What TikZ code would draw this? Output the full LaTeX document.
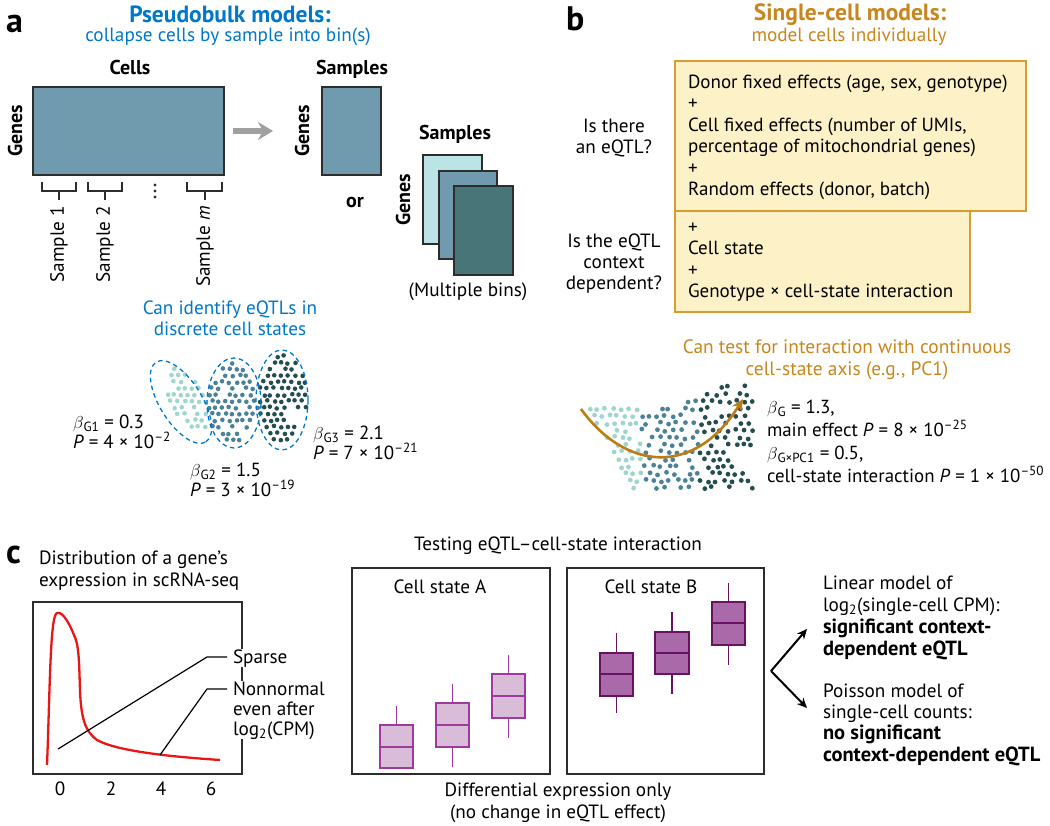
\documentclass[tikz,border=0pt]{standalone}
\usepackage{fontspec}
\setmainfont{PT Sans}
\usetikzlibrary{arrows.meta}
\definecolor{pbblue}{RGB}{0,119,200}
\definecolor{scor}{RGB}{200,134,28}
\definecolor{steel}{RGB}{112,155,174}
\definecolor{lteal}{RGB}{187,228,230}
\definecolor{dteal}{RGB}{72,117,119}
\definecolor{mline}{RGB}{45,45,45}
\definecolor{dotL}{RGB}{158,214,205}
\definecolor{dotM}{RGB}{76,130,152}
\definecolor{dotD}{RGB}{35,77,78}
\definecolor{yfill}{RGB}{253,241,199}
\definecolor{yline}{RGB}{214,158,48}
\definecolor{curvered}{RGB}{232,22,22}
\definecolor{pAf}{RGB}{216,188,216}
\definecolor{pAl}{RGB}{158,58,158}
\definecolor{pBf}{RGB}{170,106,170}
\definecolor{pBl}{RGB}{105,18,100}
\definecolor{garrow}{RGB}{160,160,160}
\definecolor{trend}{RGB}{190,125,20}
\newcommand\fsz[2]{\fontsize{#1}{#2}\selectfont}
\newcommand\bigbf[1]{{\fontsize{20.5}{21.5}\selectfont\bfseries #1}}
\newcommand\bplot[8]{%
  \pgfmathsetmacro\bxc{(#2+#3)/2}%
  \draw[wh#1] (\bxc,#4) -- (\bxc,#7) (\bxc,#5) -- (\bxc,#8);
  \filldraw[box#1] (#2,#4) rectangle (#3,#5);
  \draw[med#1] (#2,#6) -- (#3,#6);
}
\begin{document}
\begin{tikzpicture}[x=1pt,y=-1pt,
  every node/.style={inner sep=0pt, outer sep=0pt},
  txt/.style={font=\fsz{19.2}{21.5}},
  bxt/.style={font=\fsz{19}{21.5}},
  bld/.style={font=\fsz{20}{21.5}\bfseries},
  lab/.style={font=\fsz{34}{34}\bfseries},
  mat/.style={draw=mline, line width=1.4pt},
  brk/.style={draw=mline, line width=1.4pt},
  dsh/.style={draw=pbblue, line width=1.3pt, dash pattern=on 4.5pt off 3.5pt},
  ybox/.style={draw=yline, fill=yfill, line width=1.5pt},
  frame/.style={draw=mline, line width=1.4pt},
  lead/.style={draw=black, line width=1.2pt},
  boxA/.style={draw=pAl, fill=pAf, line width=1.6pt},
  whA/.style={draw=pAl, line width=1.6pt},
  medA/.style={draw=pAl, line width=2.2pt},
  boxB/.style={draw=pBl, fill=pBf, line width=1.6pt},
  whB/.style={draw=pBl, line width=1.6pt},
  medB/.style={draw=pBl, line width=2.2pt},
  fork/.style={draw=black, line width=2pt, -{Stealth[length=10pt,width=9pt]}}
]
\useasboundingbox (0,0) rectangle (1050,826);
\pgfmathsetseed{11}

% ================= panel a =================
\node[lab, anchor=base west] (la) at (6,33) {a};
\node[font=\fsz{23.5}{26}\bfseries, text=pbblue, anchor=base] (pbt) at (230,23) {Pseudobulk models:};
\node[font=\fsz{19.2}{22}, text=pbblue, anchor=base] (pbs) at (228,42) {collapse cells by sample into bin(s)};

\node[mat, fill=steel, minimum width=191pt, minimum height=88pt] (cm) at (128.5,131) {};
\node[bld, anchor=base] (cellsl) at (130,75) {Cells};
\node[bld, rotate=90] (genes1) at (15,131) {Genes};
\node[mat, fill=steel, minimum width=59pt, minimum height=88pt] (sm) at (351.5,131) {};
\node[bld, anchor=base] (samp1) at (352,75) {Samples};
\node[bld, rotate=90] (genes2) at (302,131) {Genes};
\draw[draw=garrow, line width=6pt, shorten <=9pt, shorten >=49pt, -{Stealth[length=15pt,width=18pt]}] (cm) -- (sm);

\node[bld] (orl) at (355,203) {or};
\node[bld, anchor=base] (samp2) at (455,140) {Samples};
\node[mat, fill=lteal, minimum width=59pt, minimum height=89pt] (r1) at (452.5,199.5) {};
\node[mat, fill=steel, minimum width=58pt, minimum height=88pt] (r2) at (468,215) {};
\node[mat, fill=dteal, minimum width=59pt, minimum height=89pt] (r3) at (483.5,230.5) {};
\node[bld, rotate=90] (genes3) at (403,200) {Genes};
\node[txt, anchor=base] (mb) at (468,297) {(Multiple bins)};

% brackets
\draw[brk] (42,182) -- (42,191) -- (76,191) -- (76,182) (59,191) -- (59,200);
\draw[brk] (88,182) -- (88,191) -- (122,191) -- (122,182) (105,191) -- (105,200);
\draw[brk] (187,182) -- (187,191) -- (222,191) -- (222,182) (205,191) -- (205,200);
\fill[mline] (155,185) circle (1.7pt) (155,191) circle (1.7pt) (155,197) circle (1.7pt);
\node[txt, rotate=90, anchor=east] (s1) at (59,206) {Sample 1};
\node[txt, rotate=90, anchor=east] (s2) at (105,206) {Sample 2};
\node[txt, rotate=90, anchor=east] (sm2) at (205,206) {Sample \textit{m}};

\node[txt, text=pbblue, align=center, anchor=base] (cid) at (230,336) {Can identify eQTLs in\\discrete cell states};

% discrete clusters
\foreach \j in {0,...,15}{
 \foreach \i in {0,...,23}{
  \pgfmathsetmacro\px{150+\i*6.9+mod(\j,2)*3.45+1.0*rand}
  \pgfmathsetmacro\py{350+\j*6.4+1.0*rand}
  \pgfmathsetmacro\uu{(\px-188)*0.53+(\py-400)*0.848}
  \pgfmathsetmacro\vv{(\py-400)*0.53-(\px-188)*0.848}
  \pgfmathtruncatemacro\keep{rnd>0.12}
  \pgfmathtruncatemacro\ca{(\px<209)*(((\uu)/37)*((\uu)/37)+((\vv)/17)*((\vv)/17)<1)}
  \pgfmathtruncatemacro\cb{(\px>=209)*(\px<258)*(((\px-233)/25)*((\px-233)/25)+((\py-403)/40)*((\py-403)/40)<1)}
  \pgfmathtruncatemacro\cc{(\px>=258)*(((\px-283)/24)*((\px-283)/24)+((\py-398)/46)*((\py-398)/46)<1)*(((\px-298)/11)*((\px-298)/11)+((\py-418)/9)*((\py-418)/9)>1)}
  \ifnum\keep=1
   \ifnum\ca=1 \fill[dotL] (\px,\py) circle (2.3pt);\fi
   \ifnum\cb=1 \fill[dotM] (\px,\py) circle (2.3pt);\fi
   \ifnum\cc=1 \fill[dotD] (\px,\py) circle (2.3pt);\fi
  \fi
 }}
\draw[dsh, rotate around={-58:(181,402)}] (181,402) ellipse [x radius=47pt, y radius=21pt];
\draw[dsh] (234,403) ellipse [x radius=27pt, y radius=45pt];
\draw[dsh] (282,400) ellipse [x radius=26pt, y radius=50pt];

\node[txt, align=left, anchor=base west, font=\fsz{19}{20}] (bg1) at (73,448) {$\beta$\textsubscript{G1} = 0.3\\\textit{P} = 4 × 10\textsuperscript{–2}};
\node[txt, align=left, anchor=base west, font=\fsz{19}{20}] (bg2) at (190,496) {$\beta$\textsubscript{G2} = 1.5\\\textit{P} = 3 × 10\textsuperscript{–19}};
\node[txt, align=left, anchor=base west, font=\fsz{19}{20}] (bg3) at (313,459) {$\beta$\textsubscript{G3} = 2.1\\\textit{P} = 7 × 10\textsuperscript{–21}};

% ================= panel b =================
\node[lab, anchor=base west] (lb) at (566,31) {b};
\node[font=\fsz{23.5}{26}\bfseries, text=scor, anchor=base] (sct) at (850,21) {Single-cell models:};
\node[font=\fsz{19.2}{22}, text=scor, anchor=base] (scs) at (849,42) {model cells individually};

\node[ybox, minimum width=295pt, minimum height=101pt] (b2) at (822.5,261.5) {};
\node[ybox, minimum width=351pt, minimum height=150pt] (b1) at (850.5,136) {};
\node[bxt, align=left, anchor=base west] (b1t) at (688,196) {Donor fixed effects (age, sex, genotype)\\+\\Cell fixed effects (number of UMIs,\\percentage of mitochondrial genes)\\+\\Random effects (donor, batch)};
\node[bxt, align=left, anchor=base west] (b2t) at (688,298) {+\\Cell state\\+\\Genotype × cell-state interaction};
\node[txt, align=center, anchor=base, font=\fsz{19.2}{21}] (q1) at (614,154) {Is there\\an eQTL?};
\node[txt, align=center, anchor=base, font=\fsz{19.2}{21}] (q2) at (614,290) {Is the eQTL\\context\\dependent?};

\node[txt, text=scor, align=center, anchor=base, font=\fsz{19.4}{22}] (cap) at (847,376) {Can test for interaction with continuous\\cell-state axis (e.g., PC1)};

% continuous scatter
\foreach \j in {0,...,15}{
 \foreach \i in {0,...,21}{
  \pgfmathsetmacro\px{590+\i*7.9+mod(\j,2)*3.95+1.5*rand}
  \pgfmathsetmacro\py{380+\j*7.2+1.5*rand}
  \pgfmathsetmacro\tp{max(381,410-0.0045*(\px-645)*(\px-645))}
  \pgfmathsetmacro\bt{min(489,420+1.9*(\px-595))}
  \pgfmathtruncatemacro\inb{(\py>\tp)*(\py<\bt)*(\px<753)*(rnd>0.18)*(((\px-742)/12)*((\px-742)/12)+((\py-458)/13)*((\py-458)/13)>1)}
  \ifnum\inb=1
    \pgfmathtruncatemacro\col{(\px>=641)+(\px>=700)}
    \ifcase\col \fill[dotL] (\px,\py) circle (2.4pt);
    \or \fill[dotM] (\px,\py) circle (2.4pt);
    \or \fill[dotD] (\px,\py) circle (2.4pt);
    \fi
  \fi
 }}
\coordinate (tr0) at (581,409);
\coordinate (tr1) at (743,399);
\draw[draw=trend, line width=2.6pt, -{Stealth[length=12pt,width=11pt]}] (tr0) .. controls (625,470) and (694,478) .. (tr1);

\node[txt, align=left, anchor=base west, font=\fsz{18.9}{23}] (stats) at (767,482) {$\beta$\textsubscript{G} = 1.3,\\main effect \textit{P} = 8 × 10\textsuperscript{–25}\\$\beta$\textsubscript{G×PC1} = 0.5,\\cell-state interaction \textit{P} = 1 × 10\textsuperscript{–50}};

% ================= panel c =================
\node[lab, anchor=base west] (lc) at (6,563) {c};
\node[txt, align=left, anchor=base west] (dt) at (39,586) {Distribution of a gene’s\\expression in scRNA-seq};
\node[frame, minimum width=209pt, minimum height=172pt] (pbox) at (137.5,688) {};
\node[txt, anchor=base] (t0) at (60,795) {0};
\node[txt, anchor=base] (t2) at (111,795) {2};
\node[txt, anchor=base] (t4) at (161,795) {4};
\node[txt, anchor=base] (t6) at (211,795) {6};
\draw[curvered, line width=2.3pt] (47,765) .. controls (50,690) and (50,615) .. (57,613) .. controls (63,611) and (70,625) .. (74,635) .. controls (79,645) and (79,660) .. (80,690) .. controls (81,720) and (86,732) .. (97,740) .. controls (115,750) and (160,756) .. (220,760);

\node[txt, fill=white, inner xsep=2pt, anchor=base west] (sparse) at (231,663) {Sparse};
\node[txt, fill=white, inner xsep=2pt, align=left, anchor=base west, font=\fsz{19.2}{20}] (nonn) at (231,735) {Nonnormal\\even after\\log\textsubscript{2}(CPM)};
\coordinate (sp0) at (58,749);
\coordinate (sp1) at (207,657);
\coordinate (sp2) at (227,657);
\coordinate (nn0) at (160,755);
\coordinate (nn1) at (207,689);
\coordinate (nn2) at (227,689);
\draw[lead] (sp0) -- (sp1) -- (sp2);
\draw[lead] (nn0) -- (nn1) -- (nn2);

\node[txt, anchor=base] (tst) at (558,550) {Testing eQTL–cell-state interaction};
\node[frame, minimum width=198pt, minimum height=206pt] (boxa) at (451,671) {};
\node[frame, minimum width=197pt, minimum height=206pt] (boxb) at (665.5,671) {};
\node[txt, anchor=base] (csa) at (440,593) {Cell state A};
\node[txt, anchor=base] (csb) at (651,593) {Cell state B};

\bplot{A}{380}{413}{725}{768}{747}{706}{768}
\bplot{A}{436}{469}{703}{747}{725}{684}{767}
\bplot{A}{492}{525}{674}{718}{696}{655}{738}
\bplot{B}{600}{633}{653}{696}{674}{633}{713}
\bplot{B}{655}{689}{632}{674}{653}{612}{694}
\bplot{B}{712}{745}{602}{645}{623}{583}{665}

\node[txt, align=center, anchor=base] (dif) at (558,818) {Differential expression only\\(no change in eQTL effect)};

\coordinate (fk) at (771,671);
\coordinate (fku) at (807,629);
\coordinate (fkd) at (807,708);
\draw[fork] (fk) -- (fku);
\draw[fork] (fk) -- (fkd);
\node[txt, align=left, anchor=base west, font=\fsz{19.2}{22}] (lin) at (823,655) {Linear model of\\log\textsubscript{2}(single-cell CPM):\\\bigbf{significant context-}\\\bigbf{dependent eQTL}};
\node[txt, align=left, anchor=base west, font=\fsz{19.2}{21.3}] (poi) at (823,761) {Poisson model of\\single-cell counts:\\\bigbf{no significant}\\\bigbf{context-dependent eQTL}};
\end{tikzpicture}
\end{document}
